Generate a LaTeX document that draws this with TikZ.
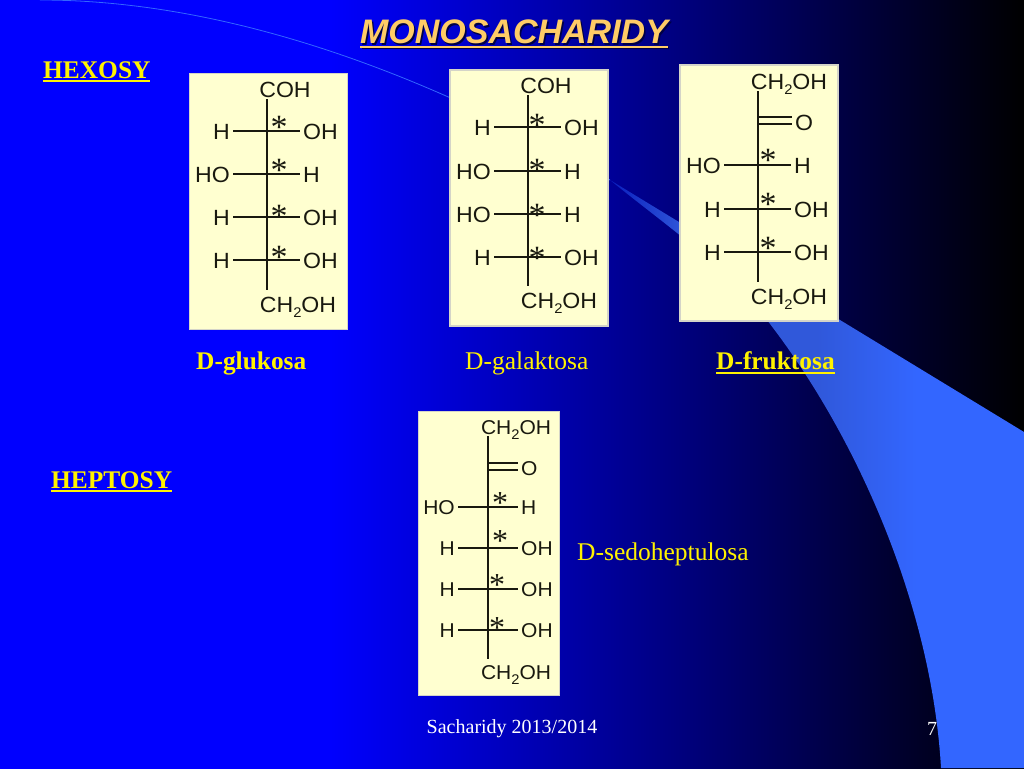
\documentclass[tikz,border=0pt]{standalone}
\usepackage{fontspec}
\setmainfont{Liberation Serif}
\newfontfamily\chemfont[FakeStretch=1.05]{Liberation Sans}
\newfontfamily\headfont{Liberation Sans}
\usetikzlibrary{positioning}

\definecolor{deckblue}{RGB}{0,0,255}
\definecolor{deckmid}{RGB}{0,0,120}
\definecolor{wingblue}{RGB}{51,102,255}
\definecolor{wingdim}{RGB}{48,88,218}
\definecolor{wingtip}{RGB}{10,30,190}
\definecolor{panelfill}{RGB}{255,255,208}
\definecolor{paneledge}{RGB}{212,212,200}
\definecolor{titleorange}{RGB}{255,204,102}
\definecolor{titleshade}{RGB}{0,0,70}
\definecolor{inkblack}{RGB}{25,25,15}

\pgfdeclarehorizontalshading{deckfade}{100bp}{color(0bp)=(deckblue); color(41bp)=(deckblue); color(59bp)=(deckmid); color(75bp)=(black); color(100bp)=(black)}
\pgfdeclarehorizontalshading{wingfade}{100bp}{color(0bp)=(wingtip); color(25bp)=(wingtip); color(34bp)=(wingdim); color(50bp)=(wingdim); color(62bp)=(wingblue); color(100bp)=(wingblue)}

\newcommand{\subtwo}{\raisebox{-5pt}{\fontsize{14}{14}\selectfont 2}}
\newcommand{\ulin}[1]{\setbox0=\hbox{#1}\rlap{\rule[-4pt]{\wd0}{2pt}}\box0}

\tikzset{
  panelbox/.style = {draw=paneledge, line width=1.8pt, fill=panelfill, inner sep=0pt},
  atom/.style = {font=\chemfont\fontsize{22}{22}\selectfont, text=inkblack, inner xsep=3pt, inner ysep=2pt, text height=16pt, text depth=0pt},
  smallatom/.style = {atom, font=\chemfont\fontsize{20}{20}\selectfont, text height=14.5pt},
  bond/.style = {draw=inkblack, line width=1.4pt},
  stem/.style = {bond, shorten >=3.5pt},
  starmark/.style = {font=\fontsize{34}{34}\selectfont, text=inkblack, inner sep=0pt},
  smallstar/.style = {font=\fontsize{32}{32}\selectfont, text=inkblack, inner sep=0pt},
  caption/.style = {font=\fontsize{25.5}{25.5}\selectfont, text=yellow, inner sep=0pt, anchor=west},
  boldcaption/.style = {caption, font=\bfseries\fontsize{25.4}{25.4}\selectfont},
  footer/.style = {font=\fontsize{20}{20}\selectfont, text=white, inner sep=0pt}
}

\begin{document}
\begin{tikzpicture}[x=1pt, y=-1pt]
        \useasboundingbox (0,0) rectangle (1024,768);
        \shade[shading=deckfade] (0,0) rectangle (1024,768);

        % wing behind the panels
        \shade[shading=wingfade] (610,180) -- (1024,432) -- (1024,768) -- (941,768)
            .. controls (932,610) and (860,440) .. (767,320)
            .. controls (725,265) and (665,225) .. (610,180);
        \draw[wingblue, line width=.8pt] (610,180) .. controls (430,75) and (230,0) .. (40,0);

        % title
        \node[font=\headfont\bfseries\itshape\fontsize{34}{34}\selectfont, text=titleshade, inner sep=0pt] (titleback) at (515.5,35.5) {\ulin{MONOSACHARIDY}};
        \node[font=\headfont\bfseries\itshape\fontsize{34}{34}\selectfont, text=titleorange, inner sep=0pt] (title) at (514,34) {\ulin{MONOSACHARIDY}};

        \node[boldcaption] (hexosy) at (43,72) {\ulin{HEXOSY}};
        \node[boldcaption] (heptosy) at (51,482) {\ulin{HEPTOSY}};

        % glukosa
        \node[panelbox, minimum width=158pt, minimum height=256pt] (glubox) at (268.5,201.5) {};
        \node[atom] (glutop) at (285,89) {COH};
        \node[atom] (glubot) at (298,304) {CH\subtwo OH};
        \foreach \r/\y/\lft/\rgt/\up in {1/131/H/OH/4, 2/174/HO/H/4, 3/217/H/OH/1, 4/260/H/OH/3}{
            \coordinate (glu\r) at (267,\y);
            \node[atom, left = 34pt of glu\r] (glul\r) {\lft};
            \node[atom, right = 33pt of glu\r] (glur\r) {\rgt};
            \draw[bond] (glul\r) -- (glur\r);
            \node[starmark] (glus\r) at ([shift={(12pt,\up pt)}]glu\r) {*};
        }
        \draw[stem] (glutop.south -| glu1) -- (glubot.north -| glu1);
        \node[boldcaption] (gluname) at (196,363) {D-glukosa};

        % galaktosa
        \node[panelbox, minimum width=158pt, minimum height=256pt] (galbox) at (529,198) {};
        \node[atom] (galtop) at (546,85) {COH};
        \node[atom] (galbot) at (559,300) {CH\subtwo OH};
        \foreach \r/\y/\lft/\rgt/\up in {1/127/H/OH/2, 2/171/HO/H/1, 3/214/HO/H/-1, 4/257/H/OH/-1}{
            \coordinate (gal\r) at (528,\y);
            \node[atom, left = 34pt of gal\r] (gall\r) {\lft};
            \node[atom, right = 33pt of gal\r] (galr\r) {\rgt};
            \draw[bond] (gall\r) -- (galr\r);
            \node[starmark] (gals\r) at ([shift={(9pt,\up pt)}]gal\r) {*};
        }
        \draw[stem] (galtop.south -| gal1) -- (galbot.north -| gal1);
        \node[caption] (galname) at (465,363) {D-galaktosa};

        % fruktosa
        \node[panelbox, minimum width=158pt, minimum height=256pt] (frubox) at (759,193) {};
        \node[atom] (frutop) at (789,81) {CH\subtwo OH};
        \node[atom] (frubot) at (789,296) {CH\subtwo OH};
        \coordinate (fru0) at (759,120.5);
        \node[atom, right = 33pt of fru0, yshift=-2pt] (fruo) {O};
        \draw[bond] ([yshift=3.5pt]fru0) -- ([yshift=3.5pt]fru0 -| fruo.west);
        \draw[bond] ([yshift=-3.5pt]fru0) -- ([yshift=-3.5pt]fru0 -| fruo.west);
        \foreach \r/\y/\lft/\rgt/\up in {1/165/HO/H/5, 2/209/H/OH/5, 3/252/H/OH/4}{
            \coordinate (fru\r) at (758,\y);
            \node[atom, left = 34pt of fru\r] (frul\r) {\lft};
            \node[atom, right = 33pt of fru\r] (frur\r) {\rgt};
            \draw[bond] (frul\r) -- (frur\r);
            \node[starmark] (frus\r) at ([shift={(10pt,\up pt)}]fru\r) {*};
        }
        \draw[stem] (frutop.south -| fru1) -- (frubot.north -| fru1);
        \node[boldcaption] (fruname) at (716,363) {\ulin{D-fruktosa}};

        % sedoheptulosa
        \node[panelbox, minimum width=141pt, minimum height=284pt] (sedbox) at (489,553.5) {};
        \node[smallatom] (sedtop) at (516,427) {CH\subtwo OH};
        \node[smallatom] (sedbot) at (516,672) {CH\subtwo OH};
        \coordinate (sed0) at (488,466.5);
        \node[smallatom, right = 30pt of sed0, yshift=-1.5pt] (sedo) {O};
        \draw[bond] ([yshift=3.5pt]sed0) -- ([yshift=3.5pt]sed0 -| sedo.west);
        \draw[bond] ([yshift=-3.5pt]sed0) -- ([yshift=-3.5pt]sed0 -| sedo.west);
        \foreach \r/\y/\lft/\rgt/\up/\side in {1/507/HO/H/4/12, 2/548/H/OH/7/12, 3/589/H/OH/4/9, 4/630/H/OH/2/9}{
            \coordinate (sed\r) at (488,\y);
            \node[smallatom, left = 30pt of sed\r] (sedl\r) {\lft};
            \node[smallatom, right = 30pt of sed\r] (sedr\r) {\rgt};
            \draw[bond] (sedl\r) -- (sedr\r);
            \node[smallstar] (seds\r) at ([shift={(\side pt,\up pt)}]sed\r) {*};
        }
        \draw[stem] (sedtop.south -| sed1) -- (sedbot.north -| sed1);
        \node[caption] (sedname) at (577,554) {D-sedoheptulosa};

        \node[footer] (course) at (512,729) {Sacharidy 2013/2014};
        \node[footer] (pageno) at (932,729) {7};
    \end{tikzpicture}
\end{document}
